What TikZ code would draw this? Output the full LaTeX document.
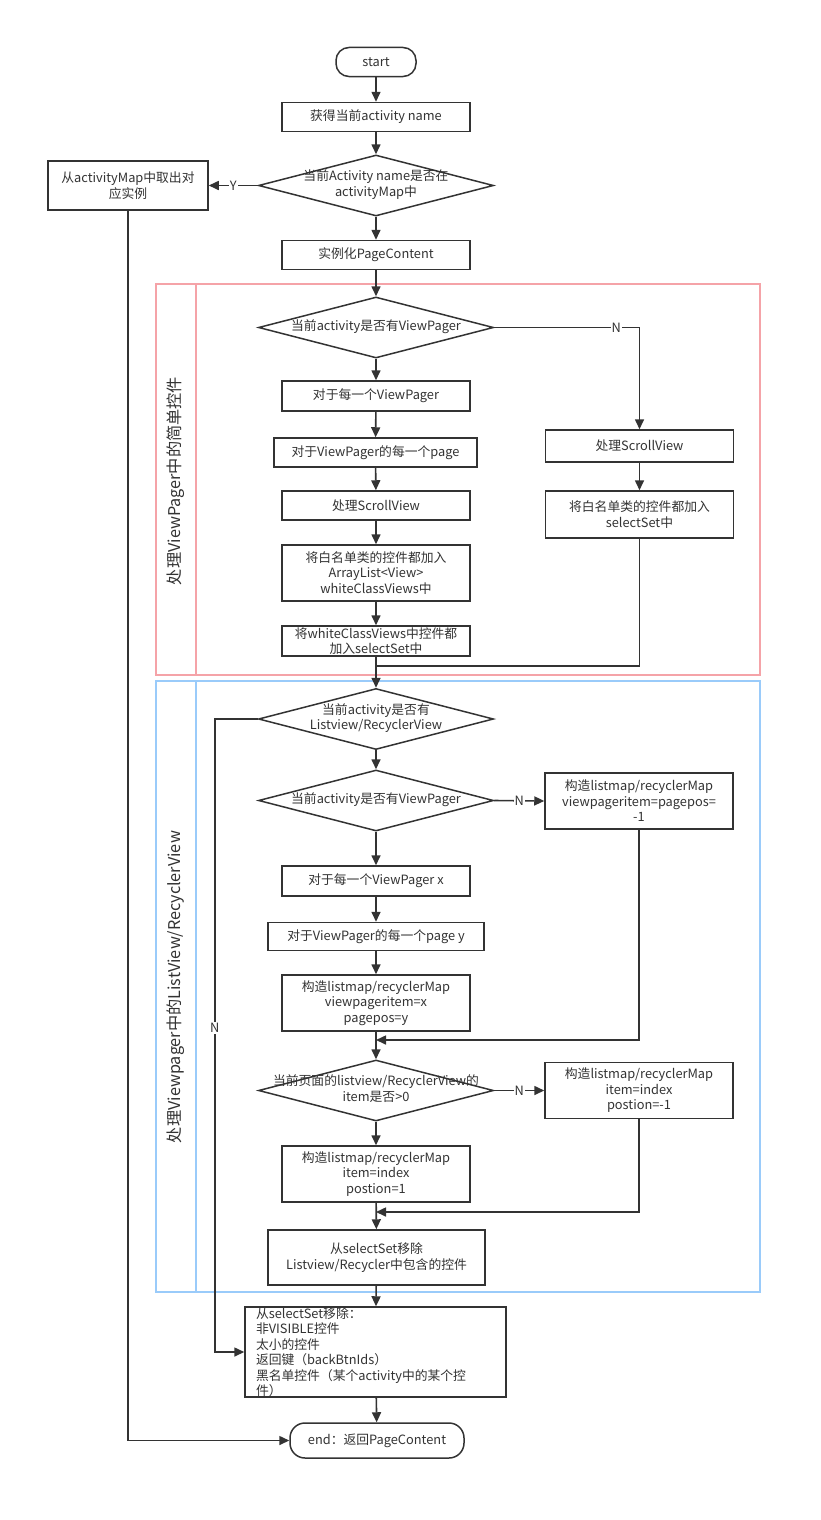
\documentclass[tikz,border=0pt]{standalone}
\usepackage{fontspec}
\setmainfont{Noto Sans CJK SC}
\usetikzlibrary{shapes.geometric,arrows.meta}
\definecolor{linec}{HTML}{333333}
\definecolor{lanepink}{HTML}{F5A3A8}
\definecolor{laneblue}{HTML}{9ACBFA}
\newcommand{\dtext}[1]{\makebox[0pt]{\begin{tabular}{@{}c@{}}#1\end{tabular}}}
\tikzset{
  proc/.style={draw=linec, line width=1.5pt, rectangle, minimum width=188pt, minimum height=29pt, inner sep=1pt, align=center, text=linec, font=\fontsize{12.8}{15.5}\selectfont},
  term/.style={proc, rounded corners=13pt},
  dec/.style={draw=linec, line width=1.5pt, diamond, aspect=3.85, minimum width=235pt, minimum height=61pt, inner sep=0pt, text=linec, font=\fontsize{12.8}{15.5}\selectfont},
  arr/.style={draw=linec, line width=1.6pt, -{Triangle[length=10pt,width=9pt]}},
  con/.style={draw=linec, line width=1.6pt},
  lab/.style={fill=white, inner sep=1pt, text=linec, font=\fontsize{12.8}{14}\selectfont},
  lane/.style={line width=1.5pt},
  lanelab/.style={rotate=90, text=linec, font=\fontsize{16.2}{18}\selectfont}
}
\begin{document}
\begin{tikzpicture}[x=1pt,y=-1pt]
	\useasboundingbox[fill=white] (0,0) rectangle (821,1520);
	\draw[lane, lanepink] (156,284) rectangle (760,675);
	\draw[lane, lanepink] (196,284) -- (196,675);
	\node[lanelab] (lanevp) at (176,481) {处理ViewPager中的简单控件};
	\draw[lane, laneblue] (156,681) rectangle (760,1292);
	\draw[lane, laneblue] (196,681) -- (196,1292);
	\node[lanelab] (lanelist) at (176,987) {处理Viewpager中的ListView/RecyclerView};
	\node[term, minimum width=80pt] (start) at (376,62) {start};
	\node[proc] (getname) at (376,117) {获得当前activity name};
	\node[dec] (inmap) at (376,185.5) {\dtext{当前Activity name是否在\\activityMap中}};
	\node[proc, minimum width=160pt, minimum height=49pt] (takeout) at (128,185.5) {从activityMap中取出对\\应实例};
	\node[proc] (newpc) at (376,255) {实例化PageContent};
	\node[dec] (hasvp) at (376,327.5) {\dtext{当前activity是否有ViewPager}};
	\node[proc, minimum height=30pt] (eachvp) at (376,396) {对于每一个ViewPager};
	\node[proc, minimum width=203pt] (eachpage) at (375.5,452.5) {对于ViewPager的每一个page};
	\node[proc] (scroll) at (376,505.5) {处理ScrollView};
	\node[proc, minimum height=56pt] (white) at (376,573) {将白名单类的控件都加入\\ArrayList<View>\\whiteClassViews中};
	\node[proc, minimum height=30pt, inner ysep=0pt, font=\fontsize{12.8}{14.5}\selectfont] (addsel) at (376,641) {将whiteClassViews中控件都\\加入selectSet中};
	\node[proc, minimum height=32pt] (scrollR) at (639.5,446) {处理ScrollView};
	\node[proc, minimum height=47pt] (addselR) at (639.5,514.5) {将白名单类的控件都加入\\selectSet中};
	\coordinate (join1) at (376,666);
	\node[dec] (haslist) at (376,719) {\dtext{当前activity是否有\\Listview/RecyclerView}};
	\node[dec] (hasvp2) at (376,800.5) {\dtext{当前activity是否有ViewPager}};
	\node[proc, minimum height=56pt] (mapnovp) at (639,801) {构造listmap/recyclerMap\\viewpageritem=pagepos=\\-1};
	\node[proc, minimum height=30pt] (eachvpx) at (376,881) {对于每一个ViewPager x};
	\node[proc, minimum width=216pt, minimum height=28pt] (eachpagey) at (376,936.5) {对于ViewPager的每一个page y};
	\node[proc, minimum height=56pt] (mapvp) at (376,1003) {构造listmap/recyclerMap\\viewpageritem=x\\pagepos=y};
	\coordinate (join2) at (376,1040);
	\node[dec] (hasitem) at (376,1090.5) {\dtext{当前页面的listview/RecyclerView的\\item是否>0}};
	\node[proc, minimum height=56pt] (mapneg) at (639,1090.5) {构造listmap/recyclerMap\\item=index\\postion=-1};
	\node[proc, minimum height=56pt] (mappos) at (376,1174) {构造listmap/recyclerMap\\item=index\\postion=1};
	\coordinate (join3) at (376,1212);
	\node[proc, minimum width=217pt, minimum height=55pt] (rmlist) at (376.5,1257.5) {从selectSet移除\\Listview/Recycler中包含的控件};
	\node[proc, minimum width=261pt, minimum height=90pt, text width=239pt, inner xsep=11pt, inner ysep=0pt, align=left, font=\fontsize{12.8}{15.5}\selectfont] (rmmisc) at (375.5,1352) {从selectSet移除：\\非VISIBLE控件\\太小的控件\\返回键（backBtnIds）\\黑名单控件（某个activity中的某个控\\件）};
	\node[term, minimum width=174pt, minimum height=35pt, rounded corners=15pt] (finish) at (377,1440.5) {end：返回PageContent};
	\draw[arr] (start) -- (getname);
	\draw[arr] (getname) -- (inmap);
	\draw[arr] (inmap.west) -- node[lab]{Y} (takeout.east);
	\draw[arr] (inmap) -- (newpc);
	\draw[arr] (newpc) -- (hasvp);
	\draw[arr] (hasvp.east) -| node[lab, pos=0.42]{N} (scrollR.north);
	\draw[arr] (hasvp) -- (eachvp);
	\draw[arr] (eachvp) -- (eachpage);
	\draw[arr] (eachpage) -- (scroll);
	\draw[arr] (scroll) -- (white);
	\draw[arr] (white) -- (addsel);
	\draw[arr] (scrollR) -- (addselR);
	\draw[con] (addselR.south) |- (join1);
	\draw[arr] (addsel) -- (haslist);
	\draw[arr] (haslist.west) -- ++(-43,0) |- node[lab, pos=0.244]{N} (rmmisc.west);
	\draw[arr] (haslist) -- (hasvp2);
	\draw[arr] (hasvp2.east) -- node[lab]{N} (mapnovp.west);
	\draw[arr] (hasvp2) -- (eachvpx);
	\draw[arr] (eachvpx) -- (eachpagey);
	\draw[arr] (eachpagey) -- (mapvp);
	\draw[arr] (mapnovp.south) |- (join2);
	\draw[arr] (mapvp) -- (hasitem);
	\draw[arr] (hasitem.east) -- node[lab]{N} (mapneg.west);
	\draw[arr] (hasitem) -- (mappos);
	\draw[arr] (mapneg.south) |- (join3);
	\draw[arr] (mappos) -- (rmlist);
	\draw[arr] (rmlist) -- (rmmisc);
	\draw[arr] (rmmisc) -- (finish);
	\draw[arr] (takeout.south) |- (finish.west);
\end{tikzpicture}
\end{document}
